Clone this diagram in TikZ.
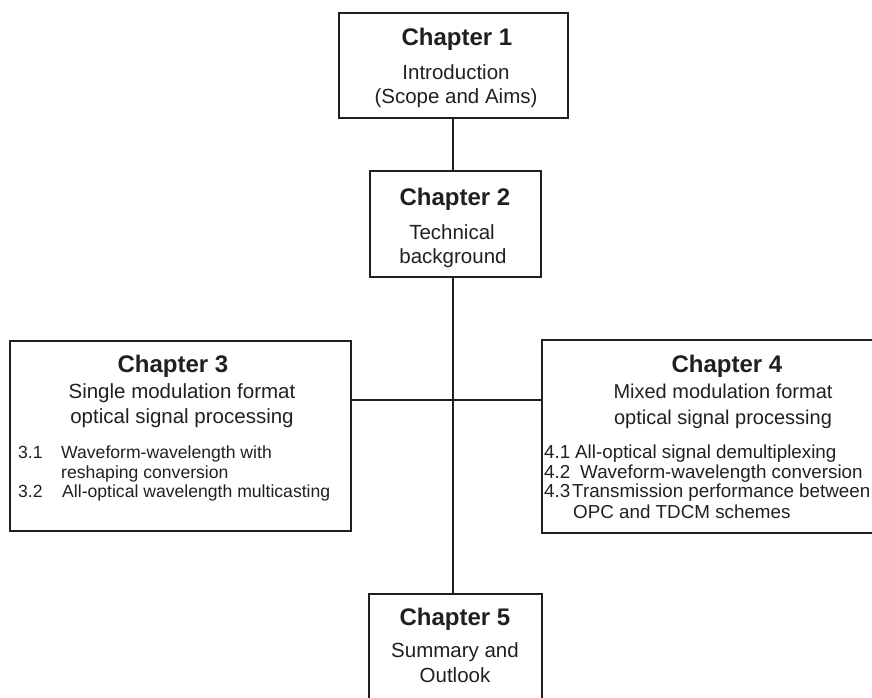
\documentclass[tikz,border=0pt]{standalone}
\usepackage{fontspec}
\setmainfont{Liberation Sans}
\definecolor{ink}{HTML}{231F20}
\begin{document}
\begin{tikzpicture}[x=1pt,y=-1pt,
  chbox/.style={draw=ink,line width=1.8pt,fill=none,inner sep=0pt,outer sep=0pt,anchor=north west},
  link/.style={draw=ink,line width=1.8pt},
  chtitle/.style={anchor=base,inner sep=0pt,text=ink,font=\fontsize{24}{28}\selectfont\bfseries},
  chsub/.style={anchor=base,inner sep=0pt,text=ink,font=\fontsize{20.5}{24}\selectfont},
  item/.style={anchor=base west,inner sep=0pt,text=ink,font=\fontsize{17.6}{20}\selectfont},
  wideitem/.style={item,font=\fontsize{18.8}{21}\selectfont}]
\useasboundingbox (0,0) rectangle (872,698);
\begin{scope}
\clip (0,0) rectangle (872,698);

% chapter boxes
\node[chbox,minimum width=229pt,minimum height=105pt] (b1) at (339,13) {};
\node[chbox,minimum width=171pt,minimum height=106pt] (b2) at (370,171) {};
\node[chbox,minimum width=341pt,minimum height=190pt] (b3) at (10,341) {};
\node[chbox,minimum width=365pt,minimum height=193pt] (b4) at (542,340) {};
\node[chbox,minimum width=173pt,minimum height=120pt] (b5) at (369,594) {};

% connectors
\coordinate (spine) at (453,0);
\coordinate (hub) at (453,400);
\draw[link] (b1.south -| spine) -- (b2.north -| spine);
\draw[link] (b2.south -| spine) -- (b5.north -| spine);
\draw[link] (b3.east |- hub) -- (b4.west |- hub);

% chapter 1
\node[chtitle] (t1) at (457,46) {Chapter 1};
\node[chsub] (t1a) at (456,80) {Introduction};
\node[chsub] (t1b) at (456,103) {(Scope and Aims)};

% chapter 2
\node[chtitle] (t2) at (455,205) {Chapter 2};
\node[chsub] (t2a) at (452,239) {Technical};
\node[chsub] (t2b) at (453,263) {background};

% chapter 3
\node[chtitle] (t3) at (173,372) {Chapter 3};
\node[chsub] (t3a) at (182,398) {Single modulation format};
\node[chsub] (t3b) at (182,423) {optical signal processing};
\node[item] (n31) at (18,458) {3.1};
\node[item] (i31) at (61,458) {Waveform-wavelength with};
\node[item] (i31b) at (61,478) {reshaping conversion};
\node[item] (n32) at (18,497) {3.2};
\node[item] (i32) at (62,497) {All-optical wavelength multicasting};

% chapter 4
\node[chtitle] (t4) at (727,372) {Chapter 4};
\node[chsub,font=\fontsize{20}{24}\selectfont] (t4a) at (723,398) {Mixed modulation format};
\node[chsub,font=\fontsize{20}{24}\selectfont] (t4b) at (723,424) {optical signal processing};
\node[wideitem] (n41) at (544,458) {4.1};
\node[wideitem] (i41) at (575,458) {All-optical signal demultiplexing};
\node[wideitem] (n42) at (544,478) {4.2};
\node[wideitem] (i42) at (580,478) {Waveform-wavelength conversion};
\node[wideitem] (n43) at (544,497) {4.3};
\node[wideitem] (i43) at (572,497) {Transmission performance between};
\node[wideitem] (i43b) at (573,518) {OPC and TDCM schemes};

% chapter 5
\node[chtitle] (t5) at (455,625) {Chapter 5};
\node[chsub] (t5a) at (455,657) {Summary and};
\node[chsub] (t5b) at (455,682) {Outlook};
\end{scope}
\end{tikzpicture}
\end{document}
